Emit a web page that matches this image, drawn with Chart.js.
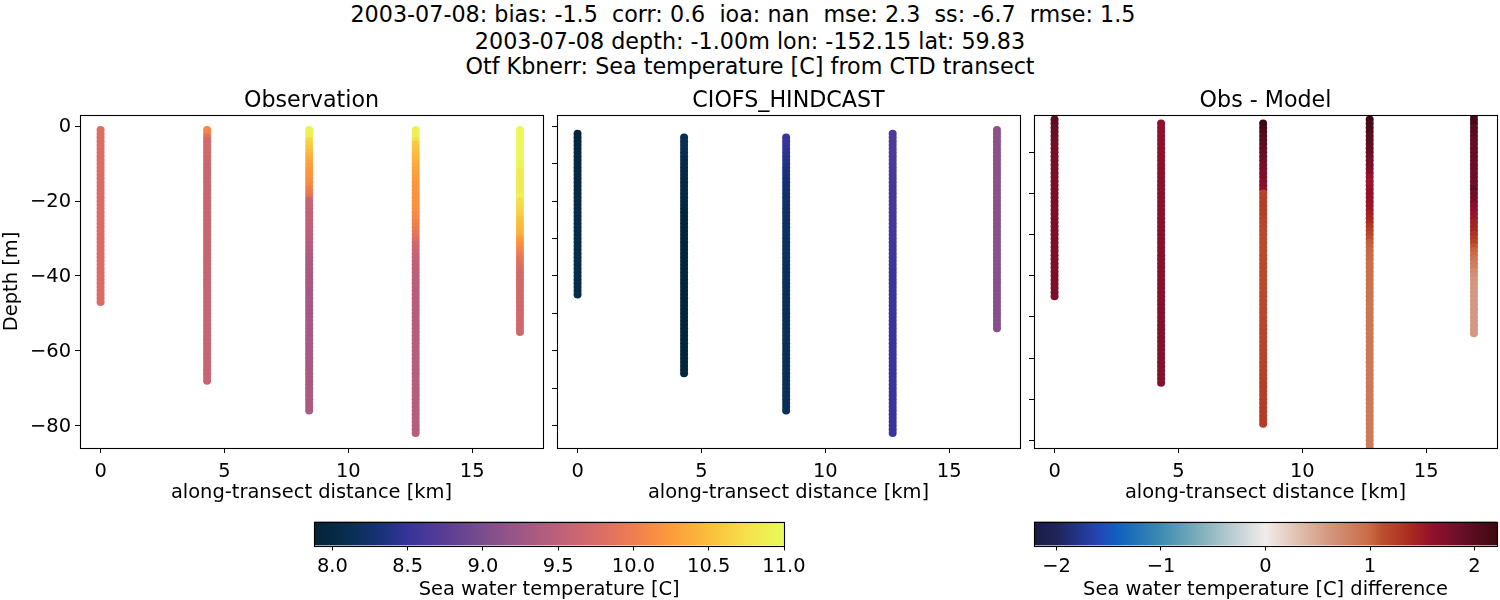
<!DOCTYPE html>
<html>
<head>
<meta charset="utf-8">
<script src="https://cdn.jsdelivr.net/npm/chart.js@4"></script>
<style>
  html, body { margin: 0; padding: 0; background: #fff; width: 1500px; height: 600px; overflow: hidden; }
  canvas { position: absolute; }
  #suptitle { position: absolute; left: 0; top: 0; width: 1500px; text-align: center; font: 22.25px "DejaVu Sans"; color: #000; }
  #suptitle div { position: absolute; left: 0; width: 1500px; line-height: 26px; white-space: pre; }
</style>
</head>
<body>
<div id="suptitle">
  <div style="top:1px">2003-07-08: bias: -1.5  corr: 0.6  ioa: nan  mse: 2.3  ss: -6.7  rmse: 1.5  </div>
  <div style="top:28px">2003-07-08 depth: -1.00m lon: -152.15 lat: 59.83</div>
  <div style="top:53px">Otf Kbnerr: Sea temperature [C] from CTD transect</div>
</div>
<canvas id="obsChart" width="550" height="420" style="left:0;top:85px"></canvas>
<canvas id="modelChart" width="487" height="420" style="left:540px;top:85px"></canvas>
<canvas id="diffChart" width="483" height="420" style="left:1017px;top:85px"></canvas>
<canvas id="tempBar" width="560" height="92" style="left:270px;top:510px"></canvas>
<canvas id="diffBar" width="500" height="92" style="left:1000px;top:510px"></canvas>
<script>
// along-transect distance of the 5 casts, km
const stations = [0, 4.3, 8.42, 12.72, 16.93];

// depth levels, one value per metre
const depthLevels = [
  -1,-2,-3,-4,-5,-6,-7,-8,-9,-10,-11,-12,-13,-14,-15,-16,-17,-18,-19,-20,
  -21,-22,-23,-24,-25,-26,-27,-28,-29,-30,-31,-32,-33,-34,-35,-36,-37,-38,-39,-40,
  -41,-42,-43,-44,-45,-46,-47,-48,-49,-50,-51,-52,-53,-54,-55,-56,-57,-58,-59,-60,
  -61,-62,-63,-64,-65,-66,-67,-68,-69,-70,-71,-72,-73,-74,-75,-76,-77,-78,-79,-80,
  -81,-82
];

// first level of each cast (index into depthLevels)
const obsStart = [0, 0, 0, 0, 0];
const modelStart = [1, 2, 2, 1, 0];

const obsTemp0 = [
  9.8,9.8,9.8,9.79,9.79,9.79,9.78,9.78,9.78,9.78,
  9.78,9.78,9.77,9.77,9.77,9.77,9.77,9.77,9.77,9.77,
  9.77,9.77,9.77,9.77,9.77,9.77,9.77,9.77,9.77,9.77,
  9.77,9.77,9.77,9.77,9.77,9.77,9.77,9.77,9.77,9.77,
  9.77,9.77,9.77,9.77,9.77,9.77,9.77
];
const obsTemp1 = [
  10.1,10.05,9.85,9.72,9.72,9.71,9.7,9.7,9.66,9.64,
  9.63,9.63,9.63,9.63,9.63,9.63,9.63,9.63,9.63,9.63,
  9.62,9.62,9.62,9.62,9.62,9.62,9.62,9.62,9.62,9.62,
  9.61,9.61,9.61,9.61,9.61,9.61,9.61,9.61,9.61,9.61,
  9.6,9.6,9.6,9.6,9.6,9.6,9.6,9.6,9.6,9.6,
  9.6,9.6,9.6,9.6,9.6,9.6,9.6,9.6,9.6,9.6,
  9.6,9.6,9.6,9.6,9.6,9.6,9.6,9.6
];
const obsTemp2 = [
  10.92,10.92,10.88,10.68,10.62,10.56,10.5,10.42,10.36,10.3,
  10.26,10.22,10.2,10.17,10.14,10.1,10.02,9.94,9.85,9.6,
  9.58,9.57,9.56,9.55,9.54,9.53,9.52,9.51,9.5,9.48,
  9.46,9.44,9.42,9.4,9.38,9.36,9.35,9.34,9.34,9.33,
  9.33,9.32,9.32,9.31,9.31,9.3,9.3,9.3,9.3,9.3,
  9.3,9.3,9.3,9.3,9.3,9.3,9.3,9.31,9.31,9.31,
  9.31,9.31,9.32,9.32,9.32,9.32,9.33,9.33,9.33,9.33,
  9.34,9.34,9.34,9.35,9.35,9.35
];
const obsTemp3 = [
  10.92,10.92,10.88,10.72,10.58,10.55,10.52,10.48,10.44,10.38,
  10.34,10.3,10.27,10.25,10.22,10.2,10.2,10.19,10.18,10.18,
  10.17,10.16,10.15,10.12,10.08,10.04,10,9.95,9.9,9.84,
  9.76,9.69,9.64,9.6,9.57,9.54,9.52,9.5,9.5,9.49,
  9.49,9.48,9.48,9.47,9.47,9.46,9.46,9.45,9.45,9.45,
  9.45,9.45,9.45,9.45,9.45,9.45,9.45,9.45,9.45,9.45,
  9.45,9.45,9.44,9.44,9.44,9.44,9.44,9.44,9.44,9.44,
  9.44,9.44,9.43,9.43,9.43,9.43,9.43,9.43,9.43,9.43,
  9.43,9.43
];
const obsTemp4 = [
  10.98,10.98,10.98,10.98,10.98,10.98,10.98,10.98,10.98,10.97,
  10.97,10.87,10.86,10.86,10.86,10.86,10.85,10.85,10.93,10.74,
  10.72,10.7,10.66,10.62,10.54,10.5,10.47,10.44,10.4,10.28,
  10.22,10.14,10.08,10.02,9.94,9.88,9.82,9.78,9.72,9.71,
  9.7,9.7,9.7,9.7,9.7,9.7,9.68,9.68,9.68,9.68,
  9.68,9.68,9.68,9.68,9.68
];

const modelTemp0 = [
  7.95,7.95,7.95,7.98,7.99,8,8,8,8,8,
  8,8,8,8,8.01,8.01,8.01,8.02,8.02,8.03,
  8.03,8.04,8.04,8.04,8.05,8.05,8.05,8.05,8.05,8.05,
  8.05,8.05,8.05,8.05,8.05,8.05,8.05,8.05,8.05,8.05,
  8.05,8.05,8.05,8.05
];
const modelTemp1 = [
  8.13,8.13,8.12,8.12,8.11,8.1,8.05,8.03,8.02,8.01,
  8,8,7.99,7.99,7.98,7.98,7.97,7.97,7.95,7.94,
  7.93,7.93,7.93,7.93,7.93,7.93,7.93,7.93,7.93,7.93,
  7.93,7.93,7.93,7.93,7.93,7.93,7.93,7.93,7.93,7.93,
  7.93,7.93,7.93,7.93,7.93,7.93,7.93,7.93,7.93,7.93,
  7.93,7.93,7.93,7.93,7.93,7.93,7.93,7.93,7.93,7.93,
  7.93,7.93,7.93,7.94
];
const modelTemp2 = [
  8.52,8.52,8.5,8.48,8.45,8.43,8.41,8.39,8.37,8.35,
  8.33,8.31,8.3,8.29,8.28,8.27,8.26,8.25,8.24,8.23,
  8.22,8.22,8.21,8.21,8.2,8.2,8.2,8.19,8.19,8.19,
  8.18,8.18,8.18,8.17,8.17,8.16,8.16,8.16,8.16,8.16,
  8.15,8.15,8.15,8.15,8.15,8.15,8.15,8.15,8.15,8.15,
  8.15,8.15,8.15,8.15,8.15,8.15,8.15,8.15,8.15,8.15,
  8.15,8.15,8.15,8.15,8.15,8.15,8.15,8.15,8.15,8.15,
  8.15,8.15,8.15,8.15
];
const modelTemp3 = [
  8.68,8.68,8.68,8.68,8.67,8.67,8.67,8.66,8.66,8.65,
  8.64,8.64,8.63,8.63,8.62,8.62,8.62,8.62,8.62,8.62,
  8.62,8.61,8.61,8.61,8.6,8.6,8.6,8.59,8.59,8.58,
  8.57,8.56,8.55,8.55,8.54,8.54,8.54,8.53,8.53,8.53,
  8.53,8.53,8.52,8.52,8.52,8.52,8.52,8.52,8.52,8.52,
  8.52,8.52,8.52,8.52,8.52,8.52,8.52,8.52,8.52,8.52,
  8.52,8.52,8.52,8.52,8.52,8.52,8.52,8.52,8.52,8.52,
  8.52,8.52,8.52,8.52,8.52,8.52,8.52,8.52,8.52,8.52,
  8.52
];
const modelTemp4 = [
  9.13,9.13,9.13,9.12,9.12,9.12,9.12,9.12,9.12,9.12,
  9.12,9.12,9.12,9.11,9.11,9.11,9.11,9.11,9.11,9.11,
  9.1,9.1,9.1,9.1,9.1,9.1,9.1,9.1,9.1,9.1,
  9.09,9.09,9.09,9.09,9.09,9.09,9.09,9.09,9.09,9.09,
  9.08,9.08,9.08,9.08,9.08,9.08,9.08,9.08,9.08,9.08,
  9.08,9.08,9.08,9.08
];

const tempDiff0 = [
  1.95,1.95,1.92,1.9,1.88,1.85,1.82,1.8,1.78,1.78,
  1.77,1.77,1.76,1.76,1.75,1.75,1.75,1.75,1.75,1.75,
  1.75,1.75,1.74,1.74,1.74,1.74,1.74,1.74,1.74,1.74,
  1.74,1.74,1.74,1.73,1.73,1.73,1.73,1.73,1.73,1.73,
  1.73,1.73,1.73,1.73
];
const tempDiff1 = [
  1.62,1.62,1.62,1.62,1.62,1.62,1.62,1.62,1.63,1.63,
  1.63,1.63,1.64,1.64,1.64,1.64,1.65,1.65,1.65,1.65,
  1.65,1.65,1.66,1.66,1.66,1.66,1.66,1.66,1.66,1.66,
  1.67,1.67,1.67,1.67,1.67,1.67,1.67,1.67,1.67,1.67,
  1.67,1.67,1.67,1.67,1.68,1.68,1.68,1.68,1.68,1.68,
  1.68,1.68,1.68,1.68,1.68,1.68,1.68,1.68,1.68,1.68,
  1.68,1.68,1.68,1.68
];
const tempDiff2 = [
  2.2,2.15,2.08,2.03,2,1.97,1.94,1.9,1.87,1.84,
  1.81,1.77,1.74,1.72,1.69,1.66,1.62,1.2,1.22,1.24,
  1.25,1.25,1.24,1.22,1.2,1.19,1.18,1.17,1.16,1.15,
  1.15,1.15,1.15,1.15,1.15,1.15,1.15,1.15,1.15,1.15,
  1.15,1.15,1.16,1.16,1.16,1.17,1.17,1.17,1.18,1.18,
  1.18,1.19,1.19,1.19,1.2,1.2,1.2,1.21,1.21,1.21,
  1.22,1.22,1.22,1.23,1.23,1.23,1.24,1.24,1.24,1.25,
  1.25,1.25,1.25,1.25
];
const tempDiff3 = [
  2.2,2.12,2.1,2.06,2,1.97,1.95,1.93,1.9,1.85,
  1.76,1.75,1.74,1.7,1.56,1.55,1.54,1.56,1.6,1.58,
  1.56,1.54,1.52,1.46,1.42,1.38,1.3,1.24,1.18,1.12,
  1.06,1.03,1.01,1,0.98,0.96,0.95,0.95,0.94,0.94,
  0.93,0.93,0.92,0.92,0.91,0.9,0.9,0.9,0.9,0.9,
  0.9,0.89,0.89,0.89,0.89,0.88,0.88,0.88,0.88,0.88,
  0.87,0.87,0.87,0.87,0.87,0.87,0.86,0.86,0.86,0.86,
  0.86,0.86,0.85,0.85,0.85,0.85,0.85,0.85,0.85,0.85,
  0.85
];
const tempDiff4 = [
  2.15,2.15,2.12,2,2,1.98,1.92,1.9,1.9,1.9,
  1.9,1.88,1.86,1.86,1.85,1.85,1.85,1.85,1.95,1.82,
  1.8,1.78,1.66,1.63,1.56,1.54,1.47,1.45,1.42,1.32,
  1.28,1.2,1.1,1.02,0.98,0.88,0.85,0.82,0.72,0.68,
  0.62,0.61,0.6,0.6,0.6,0.6,0.6,0.6,0.6,0.6,
  0.6,0.6,0.6,0.6
];

const obsCasts = [obsTemp0, obsTemp1, obsTemp2, obsTemp3, obsTemp4];
const modelCasts = [modelTemp0, modelTemp1, modelTemp2, modelTemp3, modelTemp4];
const diffCasts = [tempDiff0, tempDiff1, tempDiff2, tempDiff3, tempDiff4];

const tempRange = [7.88, 11];
const diffRange = [-2.215, 2.215];

// colormaps: fraction, r, g, b
const thermalMap = [
  [0, 4, 35, 51], [0.08, 9, 47, 85], [0.15, 27, 50, 125], [0.2, 55, 52, 155],
  [0.27, 86, 60, 150], [0.36, 122, 77, 142], [0.44, 158, 88, 132], [0.52, 190, 96, 122],
  [0.6, 215, 107, 103], [0.68, 240, 125, 80], [0.75, 252, 152, 60], [0.84, 250, 190, 60],
  [0.92, 245, 225, 75], [1, 232, 250, 91]
];
const balanceMap = [
  [0, 24, 28, 68], [0.05, 32, 37, 88], [0.14, 37, 69, 184], [0.18, 16, 96, 192],
  [0.27, 58, 138, 176], [0.36, 128, 176, 187], [0.455, 208, 216, 218], [0.5, 241, 236, 234],
  [0.57, 224, 192, 176], [0.635, 212, 152, 128], [0.726, 201, 106, 69], [0.75, 189, 80, 48],
  [0.815, 169, 41, 31], [0.86, 146, 16, 44], [0.92, 107, 15, 40], [1, 60, 9, 17]
];

const fontName = '"DejaVu Sans"';
const labelSize = 19.44;
const black = '#000000';

const pickColor = (map, f) => {
  f = Math.min(1, Math.max(0, f));
  for (let i = 1; i < map.length; i++) {
    if (f <= map[i][0]) {
      const a = map[i - 1], b = map[i];
      const t = (f - a[0]) / (b[0] - a[0]);
      return `rgb(${Math.round(a[1] + t * (b[1] - a[1]))},${Math.round(a[2] + t * (b[2] - a[2]))},${Math.round(a[3] + t * (b[3] - a[3]))})`;
    }
  }
  return `rgb(${map[map.length - 1].slice(1).join(',')})`;
};

const minusSign = (v) => String(v).replace('-', '\u2212');

// black box around the plot area
const framePlugin = {
  id: 'frame',
  afterDraw(chart) {
    const { ctx, chartArea: a } = chart;
    ctx.save();
    ctx.strokeStyle = black;
    ctx.lineWidth = 1.1;
    ctx.strokeRect(Math.round(a.left) + 0.5, Math.round(a.top) + 0.5, Math.round(a.right - a.left), Math.round(a.bottom - a.top));
    ctx.restore();
  }
};

const makePanel = (id, title, casts, starts, map, range, opts) => {
  const datasets = casts.map((values, c) => ({
    data: values.map((v, i) => ({ x: stations[c], y: depthLevels[starts[c] + i] })),
    backgroundColor: values.map((v) => pickColor(map, (v - range[0]) / (range[1] - range[0]))),
    pointRadius: 4,
    pointBorderWidth: 0,
    pointHoverRadius: 4,
    clip: 0
  }));

  return new Chart(document.getElementById(id), {
    type: 'scatter',
    data: { datasets },
    plugins: [framePlugin],
    options: {
      responsive: false,
      animation: false,
      devicePixelRatio: 1,
      layout: { autoPadding: false, padding: { right: opts.right } },
      plugins: {
        legend: { display: false },
        tooltip: { enabled: false },
        title: {
          display: true,
          text: title,
          fullSize: false,
          color: black,
          font: { family: fontName, size: 22.2, weight: 'normal' },
          padding: { top: 3, bottom: 0.36 }
        }
      },
      scales: {
        x: {
          type: 'linear',
          min: -0.83,
          max: 17.86,
          afterFit: (s) => { s.height = 57; },
          border: { display: false },
          grid: { drawOnChartArea: false, tickLength: 5, tickColor: black, tickWidth: 1 },
          ticks: { stepSize: 5, includeBounds: false, color: black, padding: 7, maxRotation: 0, font: { family: fontName, size: labelSize } },
          title: {
            display: true,
            text: 'along-transect distance [km]',
            color: black,
            padding: { top: 0, bottom: 0 },
            font: { family: fontName, size: labelSize }
          }
        },
        y: {
          type: 'linear',
          min: opts.yMin,
          max: opts.yMax,
          afterFit: (s) => { s.width = opts.left; },
          border: { display: false },
          grid: { drawOnChartArea: false, tickLength: 5, tickColor: black, tickWidth: 1 },
          ticks: {
            stepSize: opts.yStep,
            includeBounds: false,
            display: opts.yLabels,
            color: black,
            padding: 4,
            labelOffset: 1,
            autoSkip: false,
            font: { family: fontName, size: labelSize },
            callback: minusSign
          },
          title: {
            display: opts.yLabels,
            text: 'Depth [m]',
            color: black,
            padding: { top: 0, bottom: 0 },
            font: { family: fontName, size: labelSize }
          }
        }
      }
    }
  });
};

const makeColorbar = (id, label, map, range, opts) => {
  return new Chart(document.getElementById(id), {
    type: 'bar',
    data: {
      labels: [''],
      datasets: [{
        data: [range],
        barPercentage: 1,
        categoryPercentage: 1,
        backgroundColor: (ctx) => {
          const a = ctx.chart.chartArea;
          if (!a) return black;
          const g = ctx.chart.ctx.createLinearGradient(a.left, 0, a.right, 0);
          map.forEach((s) => g.addColorStop(s[0], `rgb(${s[1]},${s[2]},${s[3]})`));
          return g;
        }
      }]
    },
    plugins: [framePlugin],
    options: {
      indexAxis: 'y',
      responsive: false,
      animation: false,
      devicePixelRatio: 1,
      layout: { autoPadding: false, padding: { left: opts.left, right: opts.right, top: 11.5 } },
      plugins: { legend: { display: false }, tooltip: { enabled: false }, title: { display: false } },
      scales: {
        y: { type: 'category', display: false },
        x: {
          type: 'linear',
          min: range[0],
          max: range[1],
          afterFit: (s) => { s.height = 56.5; },
          border: { display: false },
          grid: { drawOnChartArea: false, tickLength: 5, tickColor: black, tickWidth: 1 },
          ticks: {
            stepSize: opts.step,
            includeBounds: false,
            color: black,
            padding: 5,
            maxRotation: 0,
            font: { family: fontName, size: labelSize },
            callback: opts.format
          },
          title: {
            display: true,
            text: label,
            color: black,
            padding: { top: 0, bottom: 0 },
            font: { family: fontName, size: labelSize }
          }
        }
      }
    }
  });
};

makePanel('obsChart', 'Observation', obsCasts, obsStart, thermalMap, tempRange,
  { left: 80, right: 7, yMin: -86, yMax: 3, yStep: 20, yLabels: true });
makePanel('modelChart', 'CIOFS_HINDCAST', modelCasts, modelStart, thermalMap, tempRange,
  { left: 17, right: 7, yMin: -86, yMax: 3, yStep: 10, yLabels: false });
makePanel('diffChart', 'Obs - Model', diffCasts, modelStart, balanceMap, diffRange,
  { left: 17, right: 3, yMin: -81.87, yMax: -0.92, yStep: 10, yLabels: false });

makeColorbar('tempBar', 'Sea water temperature [C]', thermalMap, tempRange,
  { left: 44.3, right: 46, step: 0.5, format: (v) => v.toFixed(1) });
makeColorbar('diffBar', 'Sea water temperature [C] difference', balanceMap, diffRange,
  { left: 34, right: 3, step: 1, format: minusSign });
</script>
</body>
</html>
